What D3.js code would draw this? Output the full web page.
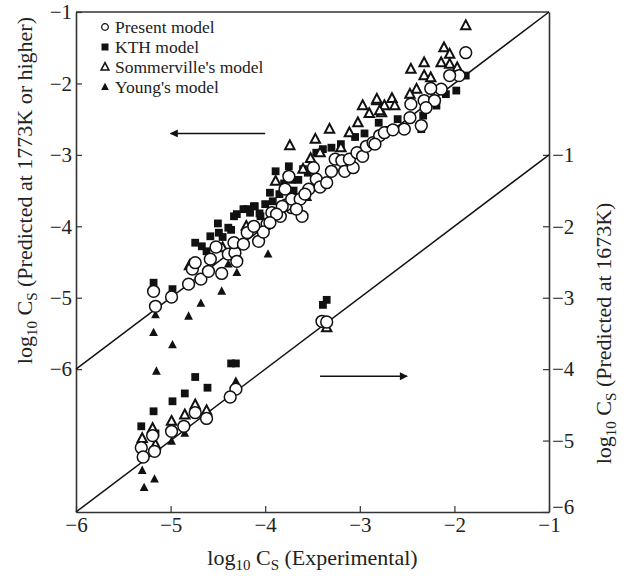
<!DOCTYPE html>
<html>
<head>
<meta charset="utf-8">
<script src="https://d3js.org/d3.v7.min.js"></script>
<style>
  body { margin: 0; background: #fff; }
  text { font-family: "Liberation Serif", "Times New Roman", serif; fill: #222; }
</style>
</head>
<body>
<div id="chart"></div>
<script>
// ---------------- data ([experimental, predicted]) ----------------
// upper group: read against the left axis (1773K or higher)
var presentHigh = [
  [-5.18,-4.91],[-5.16,-5.12],[-4.99,-4.99],[-4.81,-4.81],[-4.68,-4.74],[-4.77,-4.60],[-4.74,-4.51],
  [-4.60,-4.63],[-4.58,-4.46],[-4.52,-4.29],[-4.46,-4.66],[-4.39,-4.39],[-4.32,-4.37],[-4.30,-4.49],
  [-4.33,-4.23],[-4.23,-4.25],[-4.19,-4.09],[-4.07,-4.21],[-3.98,-3.97],[-4.02,-4.08],[-3.93,-3.81],
  [-3.84,-3.86],[-3.72,-3.74],[-3.61,-3.86],[-3.78,-3.70],[-3.75,-3.30],[-3.79,-3.48],[-3.72,-3.62],
  [-3.82,-3.72],[-3.88,-3.83],[-3.95,-3.95],[-3.63,-3.62],[-3.67,-3.76],[-3.54,-3.48],[-3.46,-3.34],
  [-3.49,-3.18],[-3.42,-3.45],[-3.35,-3.39],[-3.30,-3.23],[-3.26,-3.06],[-3.19,-3.08],[-3.16,-3.23],
  [-3.07,-3.18],[-3.11,-3.06],[-3.03,-2.97],[-2.97,-3.02],[-2.93,-2.88],[-2.86,-2.83],[-2.79,-2.73],
  [-2.74,-2.69],[-1.88,-1.57],[-1.95,-1.89],[-2.05,-1.89],[-2.14,-2.08],[-2.25,-2.07],[-2.32,-2.24],
  [-2.21,-2.24],[-2.30,-2.34],[-2.46,-2.29],[-2.47,-2.48],[-2.35,-2.59],[-2.53,-2.64],[-2.65,-2.65],
  [-2.84,-2.85],[-4.12,-4.00],[-3.58,-3.55]
];
var kthHigh = [
  [-5.18,-4.79],[-4.98,-4.88],[-4.74,-4.23],[-4.67,-4.28],[-4.58,-4.14],[-4.50,-3.96],[-4.49,-4.09],
  [-4.39,-4.02],[-4.33,-3.86],[-4.36,-4.05],[-4.23,-3.76],[-4.16,-3.81],[-4.11,-3.72],[-4.05,-3.86],
  [-4.00,-3.69],[-3.89,-3.23],[-3.75,-3.16],[-3.72,-3.35],[-4.30,-3.83],[-4.19,-3.76],[-4.12,-3.72],
  [-4.06,-3.82],[-3.95,-3.53],[-3.46,-2.97],[-3.39,-2.92],[-3.30,-2.90],[-3.60,-3.20],[-3.20,-2.85],
  [-3.05,-2.75],[-2.95,-2.70],[-2.80,-2.55],[-1.88,-1.89],[-1.98,-2.10],[-2.09,-2.15],[-2.19,-2.31],
  [-2.33,-2.45],[-2.35,-2.64],[-2.20,-2.25],[-2.60,-2.50],[-2.70,-2.65],[-3.85,-3.55],[-3.80,-3.40],
  [-3.70,-3.50],[-3.65,-3.35],[-3.55,-3.25],[-3.92,-3.65],[-4.45,-4.15],[-4.62,-4.35]
];
var sommHigh = [
  [-3.74,-2.87],[-3.47,-2.78],[-3.32,-2.64],[-3.11,-2.69],[-3.02,-2.55],[-2.97,-2.31],[-2.90,-2.42],
  [-2.77,-2.41],[-2.74,-2.31],[-2.82,-2.24],[-3.89,-3.37],[-3.42,-2.97],[-1.88,-1.19],[-2.11,-1.50],
  [-2.05,-1.59],[-2.32,-1.71],[-2.46,-1.80],[-2.14,-1.71],[-2.05,-1.73],[-1.97,-1.78],[-2.32,-1.89],
  [-2.25,-1.92],[-2.40,-2.08],[-2.47,-2.15],[-2.82,-2.22],[-2.66,-2.21],[-2.63,-2.31],[-2.79,-2.38],
  [-4.80,-4.55],[-4.45,-4.30],[-4.20,-4.00],[-3.60,-3.20],[-3.20,-2.90],[-3.52,-3.05]
];
var youngHigh = [
  [-5.16,-5.24],[-4.81,-5.26],[-4.68,-5.08],[-4.46,-4.91],[-4.30,-4.65],[-4.39,-4.53],[-3.97,-4.39],
  [-5.18,-5.49],[-4.98,-5.66],[-5.15,-6.03],[-3.55,-3.60],[-3.00,-2.95]
];

// lower group: read against the right axis (1673K)
var presentLow = [
  [-4.31,-4.28],[-4.37,-4.39],[-4.74,-4.61],[-4.62,-4.69],[-5.31,-5.10],[-5.29,-5.23],[-5.19,-4.93],
  [-5.17,-5.15],[-4.99,-4.87],[-4.86,-4.80],[-3.40,-3.33],[-3.35,-3.34]
];
var kthLow = [
  [-4.36,-3.92],[-4.31,-3.92],[-4.74,-4.11],[-4.61,-4.26],[-4.85,-4.34],[-4.98,-4.45],[-5.18,-4.59],
  [-5.31,-4.80],[-5.16,-4.90],[-3.35,-3.03],[-3.39,-3.10]
];
var sommLow = [
  [-4.74,-4.50],[-4.85,-4.64],[-4.62,-4.58],[-5.30,-4.97],[-5.19,-4.83],[-4.99,-4.73],[-5.16,-5.06],
  [-3.35,-3.42]
];
var youngLow = [
  [-4.31,-4.17],[-4.85,-4.90],[-4.99,-5.01],[-5.30,-5.42],[-5.17,-5.54],[-5.28,-5.66]
];

var xTicks      = [-6, -5, -4, -3, -2, -1];
var yLeftTicks  = [-1, -2, -3, -4, -5, -6];
var yRightTicks = [-1, -2, -3, -4, -5, -6];
var legendNames = ["Present model", "KTH model", "Sommerville's model", "Young's model"];

// ---------------- layout ----------------
var chart_width  = 627;
var chart_height = 576;
var plot_left = 76, plot_right = 549, plot_top = 12, plot_bottom = 512;

var svg = d3.select("#chart").append("svg")
  .attr("width", chart_width)
  .attr("height", chart_height);

var x_scale  = d3.scaleLinear().domain([-6, -1]).range([plot_left, plot_right]);
var yL_scale = d3.scaleLinear().domain([-8, -1]).range([plot_bottom, plot_top]);
var yR_scale = d3.scaleLinear().domain([-6, 1]).range([plot_bottom, plot_top]);

// ---------------- axes ----------------
var fmt = d3.format("d");
var x_axis  = d3.axisBottom(x_scale).tickValues(xTicks).tickFormat(fmt).tickSize(-6).tickSizeOuter(0).tickPadding(5);
var yL_axis = d3.axisLeft(yL_scale).tickValues(yLeftTicks).tickFormat(fmt).tickSize(-6).tickSizeOuter(0).tickPadding(4);
var yR_axis = d3.axisRight(yR_scale).tickValues(yRightTicks).tickFormat(fmt).tickSize(-6).tickSizeOuter(0).tickPadding(3);

function styleAxis(g) {
  g.select(".domain").attr("stroke", "#333").attr("stroke-width", 1.6);
  g.selectAll(".tick line").attr("stroke", "#333").attr("stroke-width", 1.2);
  g.selectAll(".tick text").style("font-family", "'Liberation Serif', 'Times New Roman', serif")
    .style("font-size", "21px").attr("fill", "#222");
}

// top frame line
svg.append("line").attr("x1", plot_left).attr("x2", plot_right).attr("y1", plot_top).attr("y2", plot_top)
  .attr("stroke", "#333").attr("stroke-width", 1.6);

svg.append("g").attr("transform", "translate(0," + plot_bottom + ")").call(x_axis).call(styleAxis);
svg.append("g").attr("transform", "translate(" + plot_left + ",0)").call(yL_axis).call(styleAxis);
var gR = svg.append("g").attr("transform", "translate(" + plot_right + ",0)").call(yR_axis).call(styleAxis);
// the bottom label of the right axis sits a little higher, as in the reference
gR.selectAll(".tick text").filter(d => d === -6).attr("dy", "0.05em");

// ---------------- 1:1 lines ----------------
svg.append("line")
  .attr("x1", x_scale(-6)).attr("y1", yL_scale(-6))
  .attr("x2", x_scale(-1)).attr("y2", yL_scale(-1))
  .attr("stroke", "#111").attr("stroke-width", 1.5);
svg.append("line")
  .attr("x1", x_scale(-6)).attr("y1", yR_scale(-6))
  .attr("x2", x_scale(-1)).attr("y2", yR_scale(-1))
  .attr("stroke", "#111").attr("stroke-width", 1.5);

// ---------------- arrows ----------------
var defs = svg.append("defs");
defs.append("marker").attr("id", "arrow")
  .attr("viewBox", "0 0 10 10").attr("refX", 9).attr("refY", 5)
  .attr("markerWidth", 12).attr("markerHeight", 8).attr("markerUnits", "userSpaceOnUse")
  .attr("orient", "auto")
  .append("path").attr("d", "M0,0 L10,5 L0,10 z").attr("fill", "#111");

svg.append("line")
  .attr("x1", x_scale(-4.0)).attr("y1", yL_scale(-2.70))
  .attr("x2", x_scale(-5.0)).attr("y2", yL_scale(-2.70))
  .attr("stroke", "#111").attr("stroke-width", 1.5).attr("marker-end", "url(#arrow)");
svg.append("line")
  .attr("x1", x_scale(-3.42)).attr("y1", yR_scale(-4.10))
  .attr("x2", x_scale(-2.50)).attr("y2", yR_scale(-4.10))
  .attr("stroke", "#111").attr("stroke-width", 1.5).attr("marker-end", "url(#arrow)");

// ---------------- markers ----------------
var triPath = function(s) { return "M0," + (-s * 0.62) + " L" + (s * 0.55) + "," + (s * 0.42) + " L" + (-s * 0.55) + "," + (s * 0.42) + " Z"; };

function drawSquares(data, ys) {
  svg.append("g").selectAll("rect").data(data).enter().append("rect")
    .attr("x", d => x_scale(d[0]) - 3.9).attr("y", d => ys(d[1]) - 3.9)
    .attr("width", 7.8).attr("height", 7.8).attr("fill", "#111");
}
function drawYoung(data, ys) {
  svg.append("g").selectAll("path").data(data).enter().append("path")
    .attr("transform", d => "translate(" + x_scale(d[0]) + "," + ys(d[1]) + ")")
    .attr("d", triPath(8)).attr("fill", "#111");
}
function drawCircles(data, ys) {
  svg.append("g").selectAll("circle").data(data).enter().append("circle")
    .attr("cx", d => x_scale(d[0])).attr("cy", d => ys(d[1]))
    .attr("r", 5.9).attr("fill", "#fff").attr("stroke", "#111").attr("stroke-width", 1.5);
}
function drawSomm(data, ys) {
  svg.append("g").selectAll("path").data(data).enter().append("path")
    .attr("transform", d => "translate(" + x_scale(d[0]) + "," + ys(d[1]) + ")")
    .attr("d", triPath(8.5)).attr("fill", "#fff").attr("stroke", "#111").attr("stroke-width", 2);
}

drawSquares(kthHigh, yL_scale);
drawSquares(kthLow, yR_scale);
drawYoung(youngHigh, yL_scale);
drawYoung(youngLow, yR_scale);
drawSomm(sommHigh, yL_scale);
drawSomm(sommLow, yR_scale);
drawCircles(presentHigh, yL_scale);
drawCircles(presentLow, yR_scale);

// ---------------- legend ----------------
var legend = svg.append("g").attr("transform", "translate(105,27)");
legendNames.forEach(function(name, i) {
  var g = legend.append("g").attr("transform", "translate(0," + (i * 20) + ")");
  if (i === 0) g.append("circle").attr("r", 3.3).attr("fill", "#fff").attr("stroke", "#111").attr("stroke-width", 1.3);
  if (i === 1) g.append("rect").attr("x", -3.5).attr("y", -3.5).attr("width", 7).attr("height", 7).attr("fill", "#111");
  if (i === 2) g.append("path").attr("d", triPath(7)).attr("fill", "#fff").attr("stroke", "#111").attr("stroke-width", 1.6);
  if (i === 3) g.append("path").attr("d", triPath(7)).attr("fill", "#111");
  g.append("text").attr("x", 10).attr("y", 0).attr("dy", "0.35em")
    .style("font-size", "17.5px").text(name);
});

// ---------------- axis titles ----------------
function logTitle(sel, rest) {
  sel.append("tspan").text("log");
  sel.append("tspan").attr("dy", 5).style("font-size", "15px").text("10");
  sel.append("tspan").attr("dy", -5).text(" C");
  sel.append("tspan").attr("dy", 5).style("font-size", "15px").text("S");
  sel.append("tspan").attr("dy", -5).text(" " + rest);
}

svg.append("text").attr("text-anchor", "middle")
  .attr("x", (plot_left + plot_right) / 2).attr("y", 565).style("font-size", "22px")
  .call(logTitle, "(Experimental)");

svg.append("text").attr("text-anchor", "middle")
  .attr("transform", "translate(32," + yL_scale(-3.5) + ") rotate(-90)")
  .style("font-size", "22px")
  .call(logTitle, "(Predicted at 1773K or higher)");

svg.append("text").attr("text-anchor", "middle")
  .attr("transform", "translate(611," + yR_scale(-3.5) + ") rotate(-90)")
  .style("font-size", "22px")
  .call(logTitle, "(Predicted at 1673K)");
</script>
</body>
</html>
